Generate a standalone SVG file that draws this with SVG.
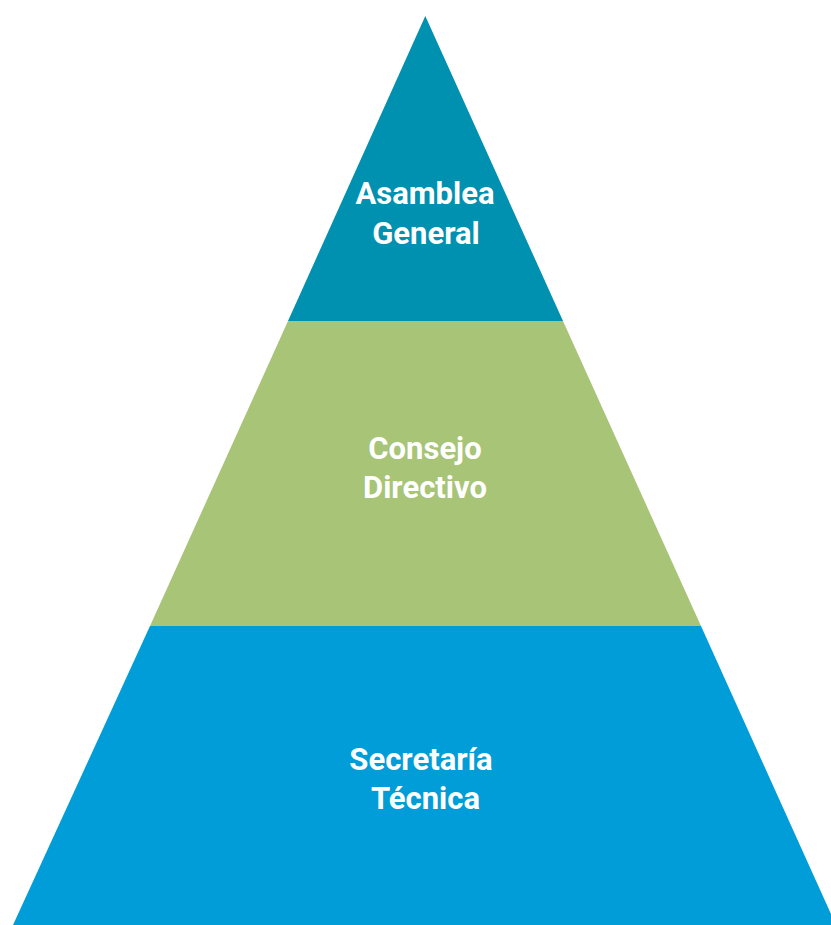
<svg xmlns="http://www.w3.org/2000/svg" width="831" height="925" viewBox="0 0 831 925">
<style>
.t{font-family:Roboto,"Liberation Sans",sans-serif;font-weight:bold;font-size:31px;fill:#ffffff;text-anchor:middle}
</style>
<rect width="831" height="925" fill="#ffffff"/>
<g id="asamblea">
<polygon points="425.3,16 288,321 563,321" fill="#0090B0"/>
<text class="t" x="425" y="204">Asamblea</text>
<text class="t" x="426" y="244">General</text>
</g>
<g id="consejo">
<polygon points="288,321 563,321 701,626 150,626" fill="#A7C477"/>
<text class="t" x="425" y="459">Consejo</text>
<text class="t" x="425" y="498">Directivo</text>
</g>
<g id="secretaria">
<polygon points="150,626 701,626 836,925 13,925" fill="#009DD8"/>
<text class="t" x="421" y="770">Secretaría</text>
<text class="t" x="425.5" y="809">Técnica</text>
</g>
<g id="connectors"/>
</svg>
